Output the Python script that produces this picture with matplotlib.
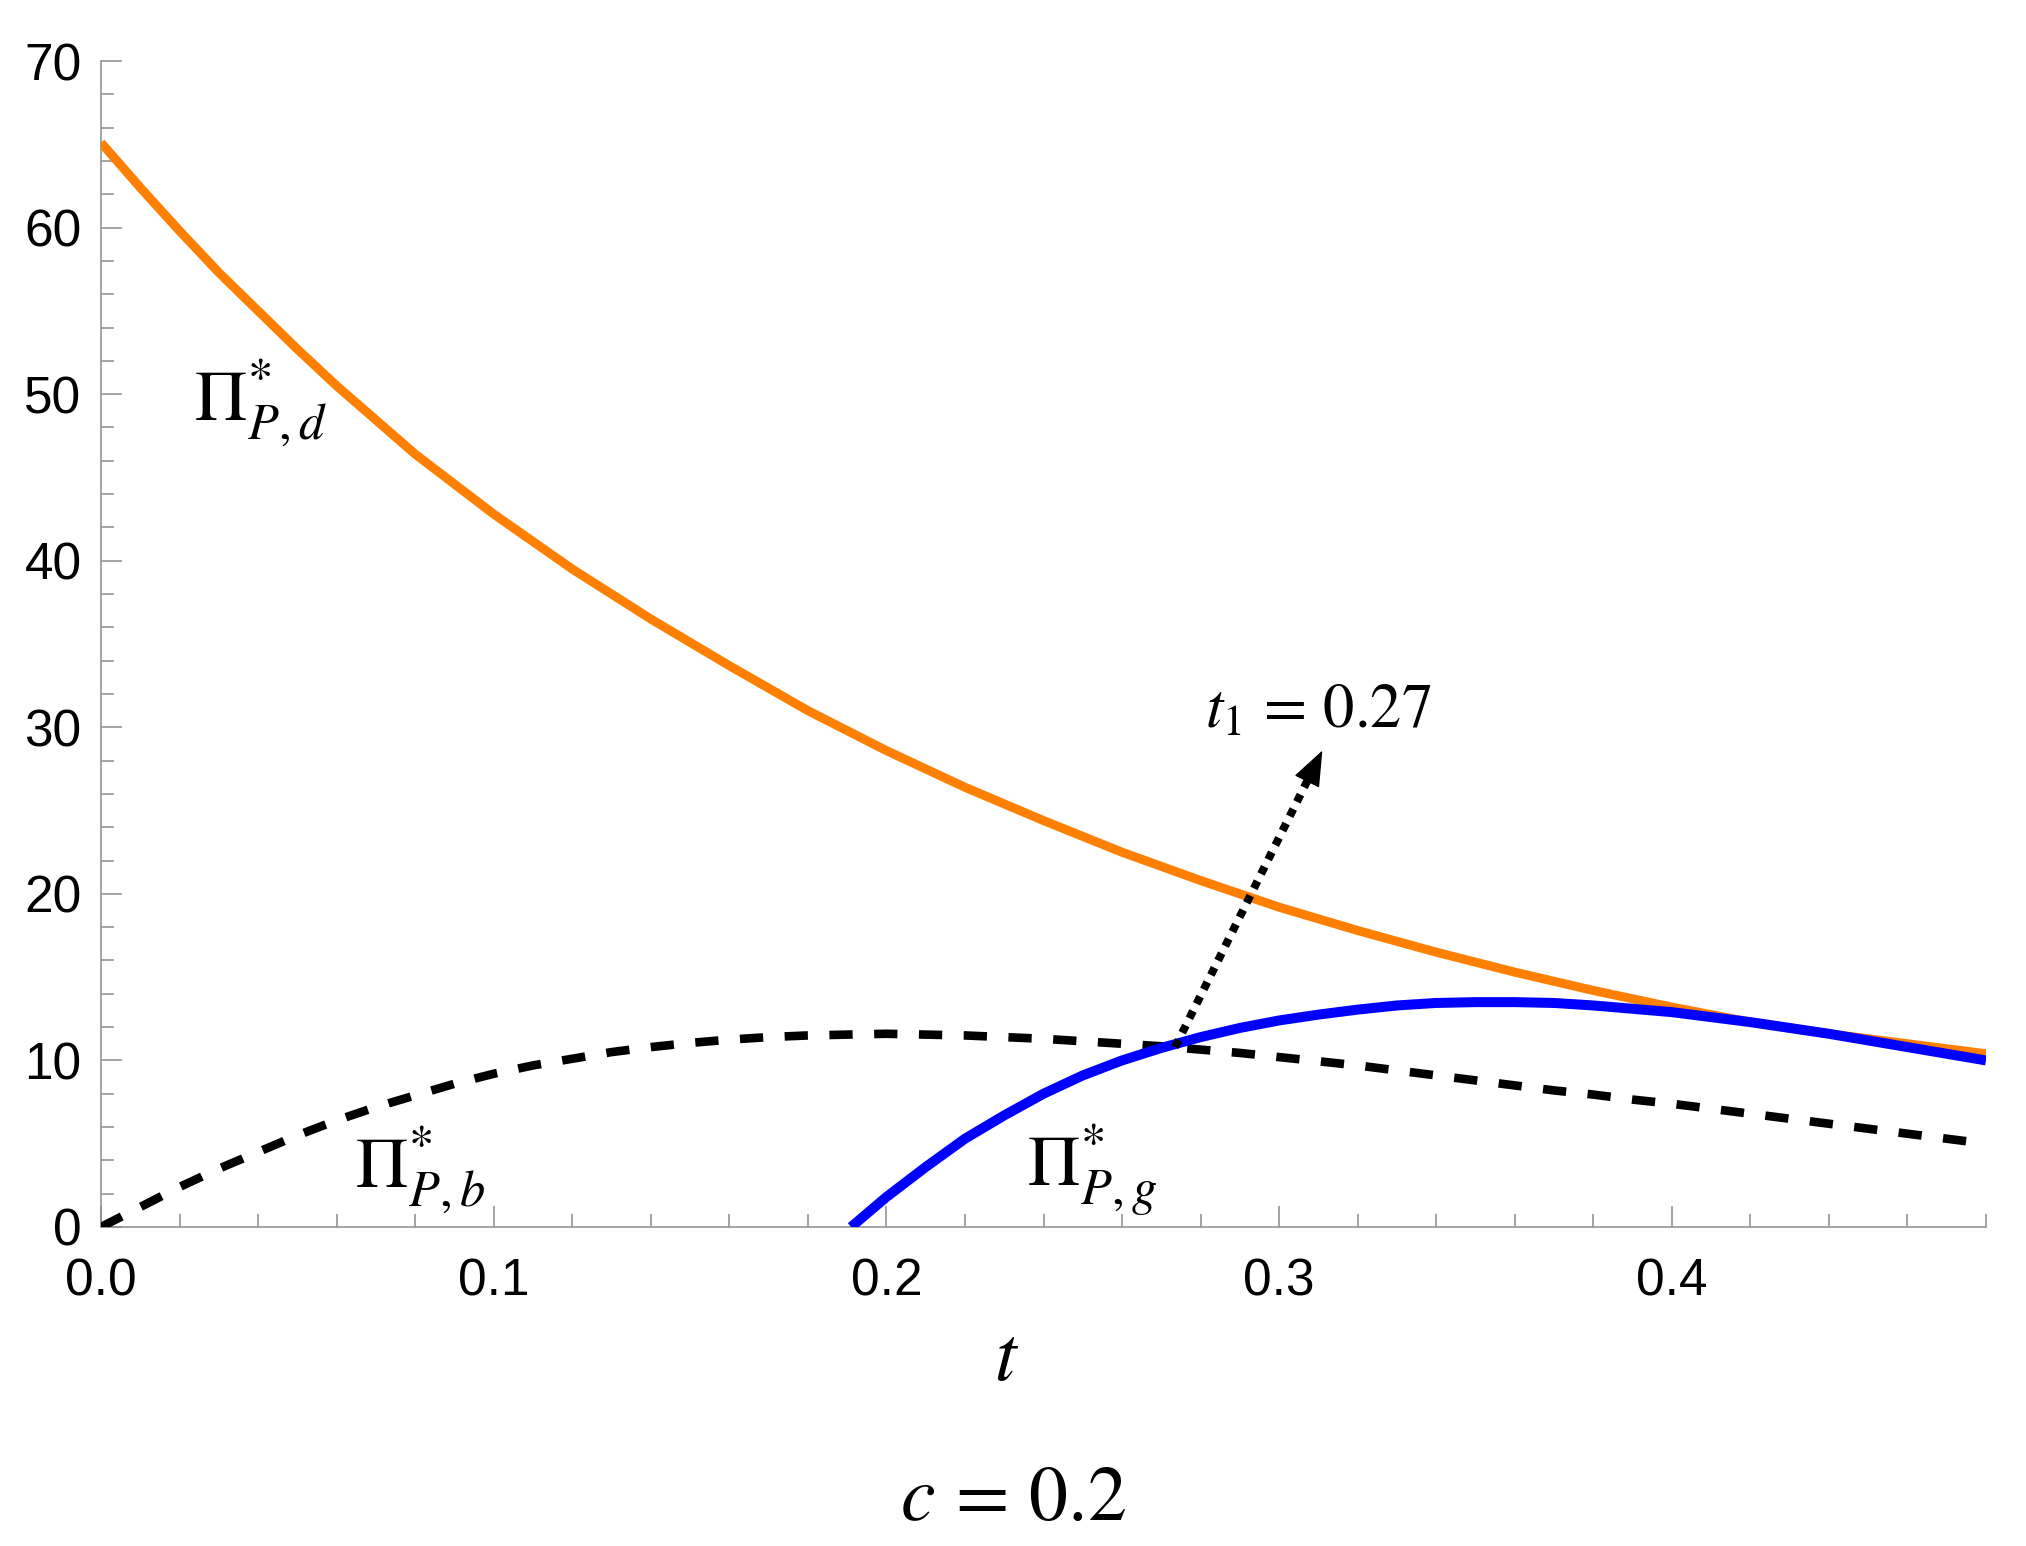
import matplotlib
matplotlib.use("Agg")
import matplotlib.pyplot as plt
from matplotlib.ticker import MultipleLocator, FormatStrFormatter

plt.rcParams['font.family'] = ['Liberation Sans', 'DejaVu Sans']
plt.rcParams['mathtext.fontset'] = 'stix'

# --- datos ---
t_d = [0.00, 0.01, 0.02, 0.03, 0.04, 0.05, 0.06, 0.08, 0.10, 0.12, 0.14, 0.16,
       0.18, 0.20, 0.22, 0.24, 0.26, 0.28, 0.30, 0.32, 0.34, 0.36, 0.38, 0.40,
       0.42, 0.44, 0.46, 0.48]
pi_d = [65.1, 62.4, 59.8, 57.3, 55.0, 52.7, 50.5, 46.4, 42.8, 39.5, 36.5, 33.7,
        31.0, 28.6, 26.4, 24.4, 22.5, 20.8, 19.2, 17.8, 16.5, 15.3, 14.2, 13.2,
        12.3, 11.6, 11.0, 10.4]

t_g = [0.191, 0.20, 0.21, 0.22, 0.23, 0.24, 0.25, 0.26, 0.27, 0.28, 0.29, 0.30,
       0.31, 0.32, 0.33, 0.34, 0.35, 0.36, 0.37, 0.38, 0.39, 0.40, 0.41, 0.42,
       0.43, 0.44, 0.45, 0.46, 0.47, 0.48]
pi_g = [0.0, 1.8, 3.6, 5.3, 6.7, 8.0, 9.1, 10.0, 10.75, 11.4, 11.95, 12.4,
        12.75, 13.05, 13.3, 13.45, 13.5, 13.5, 13.45, 13.3, 13.1, 12.9, 12.6, 12.3,
        11.95, 11.6, 11.2, 10.8, 10.4, 10.0]

t_b = [0.00, 0.01, 0.02, 0.03, 0.04, 0.05, 0.06, 0.07, 0.08, 0.09, 0.10, 0.11,
       0.12, 0.13, 0.14, 0.15, 0.16, 0.17, 0.18, 0.19, 0.20, 0.21, 0.22, 0.23,
       0.24, 0.25, 0.26, 0.27, 0.28, 0.29, 0.30, 0.31, 0.32, 0.33, 0.34, 0.35,
       0.36, 0.37, 0.38, 0.39, 0.40, 0.41, 0.42, 0.43, 0.44, 0.45, 0.46, 0.47, 0.48]
pi_b = [0.0, 1.2, 2.4, 3.5, 4.5, 5.5, 6.4, 7.2, 7.9, 8.6, 9.2, 9.7,
        10.1, 10.5, 10.8, 11.05, 11.25, 11.4, 11.5, 11.55, 11.6, 11.55, 11.5, 11.4,
        11.3, 11.15, 11.0, 10.85, 10.65, 10.45, 10.2, 9.95, 9.7, 9.4, 9.1, 8.8,
        8.5, 8.2, 7.95, 7.65, 7.4, 7.1, 6.8, 6.5, 6.2, 5.9, 5.6, 5.3, 5.0]

# flecha t1 (inicio y punta)
t1_start = (0.2735, 10.8)
t1_end = (0.311, 28.6)

fig = plt.figure(figsize=(20.26, 15.46), dpi=100)
ax = fig.add_axes([101 / 2026, 1 - 1227 / 1546, (1986 - 101) / 2026, (1227 - 61) / 1546])

ax.plot(t_d, pi_d, color='#FF8000', lw=6.5, solid_capstyle='butt', zorder=3)
ax.plot(t_b, pi_b, color='black', lw=6.2, linestyle=(0, (2.7, 2.5)),
        dash_capstyle='butt', zorder=4)
ax.plot(t_g, pi_g, color='#0000FF', lw=7.2, solid_capstyle='butt', zorder=5)

# linea punteada + cabeza de flecha solida
frac = 0.9
head_base = (t1_start[0] + frac * (t1_end[0] - t1_start[0]),
             t1_start[1] + frac * (t1_end[1] - t1_start[1]))
ax.plot([t1_start[0], head_base[0]], [t1_start[1], head_base[1]], color='black',
        lw=5.8, linestyle=(0, (1.0, 1.0)), dash_capstyle='butt', zorder=6)
ax.annotate('', xy=t1_end, xytext=head_base,
            arrowprops=dict(arrowstyle='-|>,head_length=2.3,head_width=0.9',
                            color='black', lw=1, shrinkA=0, shrinkB=0),
            zorder=6)

# etiquetas
ax.text(0.0237, 48.4, r'$\Pi^{*}_{P,d}$', fontsize=52, ha='left', va='baseline')
ax.text(0.0647, 2.4, r'$\Pi^{*}_{P,b}$', fontsize=52, ha='left', va='baseline')
ax.text(0.2357, 2.5, r'$\Pi^{*}_{P,g}$', fontsize=52, ha='left', va='baseline')
ax.text(0.281, 30.0, r'$t_1\,=\,0.27$', fontsize=45, ha='left', va='baseline')

ax.set_xlim(0, 0.48)
ax.set_ylim(0, 70)

ax.xaxis.set_major_locator(MultipleLocator(0.1))
ax.xaxis.set_minor_locator(MultipleLocator(0.02))
ax.yaxis.set_major_locator(MultipleLocator(10))
ax.yaxis.set_minor_locator(MultipleLocator(2))
ax.xaxis.set_major_formatter(FormatStrFormatter('%.1f'))
ax.yaxis.set_major_formatter(FormatStrFormatter('%d'))

ax.spines['top'].set_visible(False)
ax.spines['right'].set_visible(False)
for s in ('left', 'bottom'):
    ax.spines[s].set_color('#8c8c8c')
    ax.spines[s].set_linewidth(1.1)

ax.tick_params(which='major', direction='in', length=15, width=1.1, color='#8c8c8c',
               labelsize=37)
ax.tick_params(which='minor', direction='in', length=9.4, width=1.1, color='#8c8c8c')
ax.tick_params(axis='x', which='major', pad=22)
ax.tick_params(axis='y', which='major', pad=14)

fig.text(0.497, 1 - 1380 / 1546, r'$t$', fontsize=56, ha='center', va='baseline')
fig.text(0.500, 1 - 1520 / 1546, r'$c\,=\,0.2$', fontsize=56, ha='center', va='baseline')

fig.savefig('out.png', dpi=100, facecolor='white')
